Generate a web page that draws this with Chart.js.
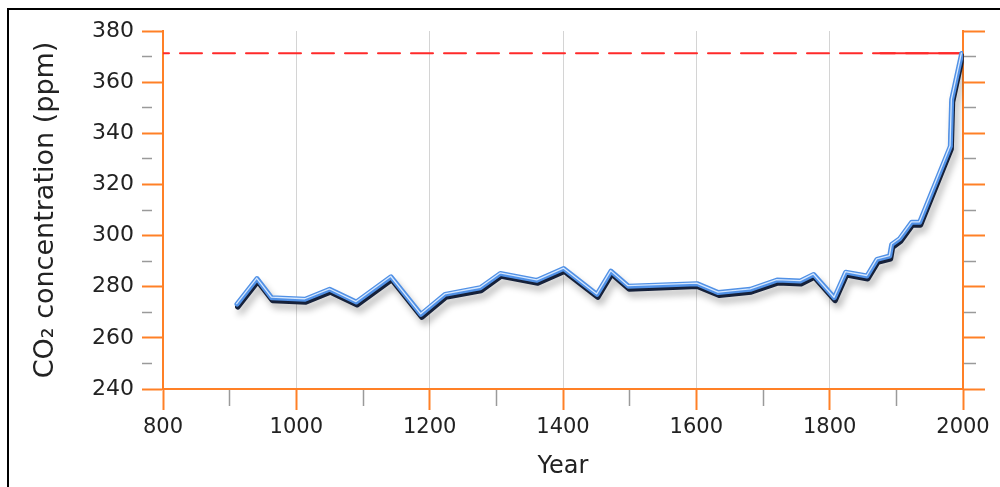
<!DOCTYPE html>
<html>
<head>
<meta charset="utf-8">
<script src="https://cdn.jsdelivr.net/npm/chart.js@4"></script>
<style>
  body { margin: 0; background: #fff; overflow: hidden; }
  #wrap { position: relative; width: 1000px; height: 487px; }
  #frame { position: absolute; left: 7px; top: 8px; width: 1100px; height: 600px;
           border-left: 2px solid #000; border-top: 2px solid #000; pointer-events: none; }
</style>
</head>
<body>
<div id="wrap">
  <canvas id="co2Chart" width="1000" height="487"></canvas>
  <div id="frame"></div>
</div>
<script>
// values
const years = [911, 941, 963, 1013, 1050, 1090, 1142, 1187, 1223, 1276, 1306, 1361, 1401, 1451, 1472, 1498,
  1601, 1633, 1681, 1721, 1756, 1776, 1807, 1824, 1856, 1871, 1890, 1893, 1905, 1923, 1935, 1981, 1983, 1998];
const ppm = [273, 283, 275.5, 274.9, 278.8, 273.8, 283.7, 269, 276.8, 279.4, 285, 282.3, 286.9, 276.8, 285.9, 280,
  281, 277.5, 278.8, 282.4, 282, 284.6, 275.5, 285.5, 284, 290.5, 291.8, 296.3, 298.6, 305, 305, 334.7, 353, 371];
const refLevel = 371.3;
const refYears = [800, 2000];
const refSolidYears = [1876, 2000];
const yearTicks = [800, 1000, 1200, 1400, 1600, 1800, 2000];
const ppmTicks = [240, 260, 280, 300, 320, 340, 360, 380];

const orange = '#ff8026';
const minorGrey = '#9a9a9a';
const textCol = '#222';

const co2 = years.map((y, i) => ({ x: y, y: ppm[i] }));
const ref = refYears.map(y => ({ x: y, y: refLevel }));
const refSolid = refSolidYears.map(y => ({ x: y, y: refLevel }));

// little offsets and shadow to give the line its raised look
const lineFx = {
  id: 'lineFx',
  beforeDatasetDraw(chart, args) {
    const ds = chart.data.datasets[args.index];
    const ctx = chart.ctx;
    ctx.save();
    if (ds.shift) ctx.translate(ds.shift[0], ds.shift[1]);
    if (ds.shade) {
      ctx.shadowColor = 'rgba(0,0,0,0.3)';
      ctx.shadowBlur = 7;
      ctx.shadowOffsetX = 3;
      ctx.shadowOffsetY = 5;
    }
  },
  afterDatasetDraw(chart) {
    chart.ctx.restore();
  }
};

const isMajorY = c => ppmTicks.includes(c.tick.value);
const isMajorX = c => yearTicks.includes(c.tick.value);

new Chart(document.getElementById('co2Chart').getContext('2d'), {
  type: 'line',
  data: {
    datasets: [
      { data: co2, borderColor: '#d6e8ff', borderWidth: 1.3, shift: [-0.3, -1], order: 0 },
      { data: co2, borderColor: '#5191e6', borderWidth: 5, shift: [0, -0.5], order: 1 },
      { data: co2, borderColor: '#16213a', borderWidth: 5.5, shift: [0.8, 2.2], shade: true, order: 2 },
      { data: ref, borderColor: '#ff2a2a', borderWidth: 2, borderDash: [22, 11], borderDashOffset: 16, order: 3 },
      { data: refSolid, borderColor: '#ff2a2a', borderWidth: 2, order: 3 }
    ]
  },
  options: {
    responsive: false,
    animation: false,
    devicePixelRatio: 1,
    layout: { padding: { top: 31, left: 0, right: 0, bottom: 0 } },
    elements: { point: { radius: 0 }, line: { tension: 0, fill: false, borderJoinStyle: 'round', borderCapStyle: 'round' } },
    plugins: { legend: { display: false }, tooltip: { enabled: false } },
    scales: {
      x: {
        type: 'linear',
        position: 'bottom',
        min: 800,
        max: 2000,
        afterFit: s => { s.height = 98; },
        ticks: {
          stepSize: 100,
          autoSkip: false,
          maxRotation: 0,
          padding: 5,
          color: textCol,
          font: { family: 'DejaVu Sans', size: 21 },
          callback: v => yearTicks.includes(v) ? String(v) : ''
        },
        grid: {
          color: c => (isMajorX(c) && c.tick.value !== 800 && c.tick.value !== 2000) ? '#d4d4d4' : 'rgba(0,0,0,0)',
          borderDash: [2, 2],
          lineWidth: 1,
          tickLength: 21,
          tickColor: c => isMajorX(c) ? orange : minorGrey,
          tickWidth: c => isMajorX(c) ? 2 : 1.5,
          tickBorderDash: c => isMajorX(c) ? [] : [16, 40]
        },
        border: { color: orange, width: 2 },
        title: {
          display: true,
          text: 'Year',
          color: textCol,
          font: { family: 'DejaVu Sans', size: 24 },
          padding: { top: 0, bottom: 6 }
        }
      },
      y: {
        position: 'left',
        min: 240,
        max: 380,
        afterFit: s => { s.width = 163; },
        ticks: {
          stepSize: 10,
          autoSkip: false,
          padding: 8,
          color: textCol,
          font: { family: 'DejaVu Sans', size: 22 },
          callback: v => ppmTicks.includes(v) ? String(v) : ''
        },
        grid: {
          drawOnChartArea: false,
          tickLength: 21,
          tickColor: c => isMajorY(c) ? orange : minorGrey,
          tickWidth: c => isMajorY(c) ? 2 : 1.5,
          tickBorderDash: c => isMajorY(c) ? [] : [10, 40]
        },
        border: { color: orange, width: 2 },
        title: {
          display: true,
          text: 'CO₂ concentration (ppm)',
          color: textCol,
          font: { family: 'DejaVu Sans', size: 27 },
          padding: { top: 30, bottom: 0 }
        }
      },
      y2: {
        position: 'right',
        min: 240,
        max: 380,
        afterFit: s => { s.width = 37; },
        ticks: { stepSize: 10, autoSkip: false, padding: 0, callback: () => '' },
        grid: {
          drawOnChartArea: false,
          tickLength: 22,
          tickColor: c => isMajorY(c) ? orange : minorGrey,
          tickWidth: c => isMajorY(c) ? 2 : 1.5,
          tickBorderDash: c => isMajorY(c) ? [] : [12, 40]
        },
        border: { color: orange, width: 2 }
      }
    }
  },
  plugins: [lineFx]
});
</script>
</body>
</html>
